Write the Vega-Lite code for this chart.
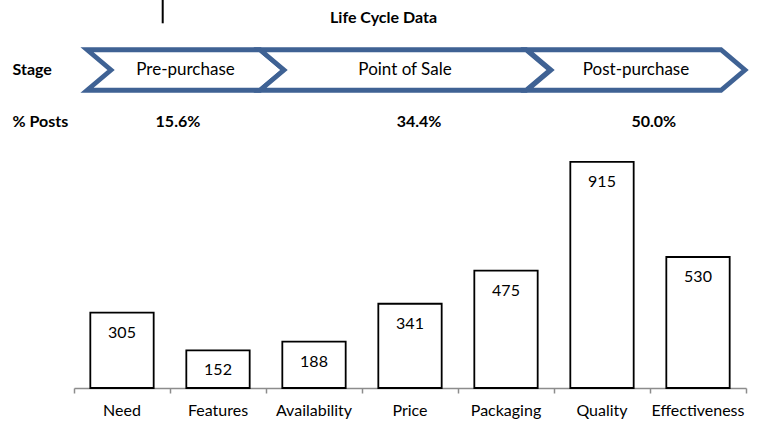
{
  "$schema": "https://vega.github.io/schema/vega-lite/v6.json",
  "width": 672,
  "height": 388,
  "autosize": {"type": "none"},
  "padding": {"left": 74, "top": 0, "right": 12, "bottom": 36},
  "background": "white",
  "config": {"view": {"stroke": null}, "font": "Lato"},
  "datasets": {
    "bars": [
      {"category": "Need", "posts": 305},
      {"category": "Features", "posts": 152},
      {"category": "Availability", "posts": 188},
      {"category": "Price", "posts": 341},
      {"category": "Packaging", "posts": 475},
      {"category": "Quality", "posts": 915},
      {"category": "Effectiveness", "posts": 530}
    ],
    "stages": [
      {"stage": "Pre-purchase", "x": 1.1615, "pct": "15.6%", "pctX": 1.083},
      {"stage": "Point of Sale", "x": 3.448, "pct": "34.4%", "pctX": 3.594},
      {"stage": "Post-purchase", "x": 5.854, "pct": "50.0%", "pctX": 6.04}
    ],
    "rows": [
      {"label": "Stage", "row": 2},
      {"label": "% Posts", "row": 1}
    ],
    "heading": [
      {"title": "Life Cycle Data", "x": 3.224, "row": 3}
    ],
    "marker": [
      {"x": 0.924, "from": 3.346, "to": 2.898}
    ]
  },
  "layer": [
    {
      "data": {"name": "bars"},
      "encoding": {
        "x": {
          "field": "category", "type": "nominal", "sort": null,
          "scale": {"paddingInner": 0.34, "paddingOuter": 0.17},
          "axis": {"orient": "bottom", "title": null, "ticks": false, "tickSize": 0, "domain": false, "labelPadding": 14, "labelFontSize": 16, "labelFont": "Lato", "labelColor": "#000000", "labelAngle": 0}
        },
        "y": {"field": "posts", "type": "quantitative", "scale": {"domain": [0, 1570], "nice": false}, "axis": null}
      },
      "layer": [
        {"mark": {"type": "bar", "fill": "white", "stroke": "black", "strokeWidth": 1.8}},
        {"mark": {"type": "text", "baseline": "middle", "dy": 20, "fontSize": 16, "font": "Lato", "color": "black"},
         "encoding": {"text": {"field": "posts", "type": "quantitative"}}}
      ]
    },
    {
      "layer": [
        {
          "data": {"name": "stages"},
          "mark": {"type": "point", "size": 10000, "fill": "white", "fillOpacity": 1, "opacity": 1, "stroke": "#3F6294", "strokeWidth": 4.8, "strokeJoin": "miter", "strokeMiterLimit": 10},
          "encoding": {
            "x": {"field": "x", "type": "quantitative", "scale": {"domain": [0, 7], "nice": false, "zero": false},
                  "axis": {"orient": "bottom", "values": [0, 1, 2, 3, 4, 5, 6, 7], "labels": false, "title": null, "grid": false, "tickSize": 5, "tickColor": "#8c8c8c", "tickWidth": 1.5, "domainColor": "#8c8c8c", "domainWidth": 1.5}},
            "y": {"datum": 2, "type": "quantitative", "scale": {"domain": [-4.115, 3.346], "nice": false, "zero": false}, "axis": null},
            "shape": {"field": "stage", "type": "nominal",
              "scale": {"domain": ["Pre-purchase", "Point of Sale", "Post-purchase"],
                "range": [
                  "M-1.97,-0.405L1.49,-0.405L1.97,0L1.49,0.405L-1.97,0.405L-1.49,0Z",
                  "M-2.9,-0.405L2.42,-0.405L2.9,0L2.42,0.405L-2.9,0.405L-2.42,0Z",
                  "M-2.18,-0.405L1.7,-0.405L2.18,0L1.7,0.405L-2.18,0.405L-1.7,0Z"
                ]},
              "legend": null}
          }
        },
        {
          "data": {"name": "stages"},
          "mark": {"type": "text", "fontSize": 17, "font": "Lato", "color": "black", "baseline": "middle"},
          "encoding": {
            "x": {"field": "x", "type": "quantitative", "scale": {"domain": [0, 7], "nice": false, "zero": false},
                  "axis": {"orient": "bottom", "values": [0, 1, 2, 3, 4, 5, 6, 7], "labels": false, "title": null, "grid": false, "tickSize": 5, "tickColor": "#8c8c8c", "tickWidth": 1.5, "domainColor": "#8c8c8c", "domainWidth": 1.5}},
            "y": {"datum": 2, "type": "quantitative", "scale": {"domain": [-4.115, 3.346], "nice": false, "zero": false}, "axis": null},
            "text": {"field": "stage"}
          }
        },
        {
          "data": {"name": "stages"},
          "mark": {"type": "text", "fontSize": 16, "font": "Lato", "fontWeight": "bold", "color": "black", "baseline": "middle"},
          "encoding": {
            "x": {"field": "pctX", "type": "quantitative", "scale": {"domain": [0, 7], "nice": false, "zero": false},
                  "axis": {"orient": "bottom", "values": [0, 1, 2, 3, 4, 5, 6, 7], "labels": false, "title": null, "grid": false, "tickSize": 5, "tickColor": "#8c8c8c", "tickWidth": 1.5, "domainColor": "#8c8c8c", "domainWidth": 1.5}},
            "y": {"datum": 1, "type": "quantitative", "scale": {"domain": [-4.115, 3.346], "nice": false, "zero": false}, "axis": null},
            "text": {"field": "pct"}
          }
        },
        {
          "data": {"name": "rows"},
          "mark": {"type": "text", "fontSize": 16, "font": "Lato", "fontWeight": "bold", "color": "black", "baseline": "middle", "align": "left"},
          "encoding": {
            "x": {"datum": -0.64, "type": "quantitative", "scale": {"domain": [0, 7], "nice": false, "zero": false},
                  "axis": {"orient": "bottom", "values": [0, 1, 2, 3, 4, 5, 6, 7], "labels": false, "title": null, "grid": false, "tickSize": 5, "tickColor": "#8c8c8c", "tickWidth": 1.5, "domainColor": "#8c8c8c", "domainWidth": 1.5}},
            "y": {"field": "row", "type": "quantitative", "scale": {"domain": [-4.115, 3.346], "nice": false, "zero": false}, "axis": null},
            "text": {"field": "label"}
          }
        },
        {
          "data": {"name": "heading"},
          "mark": {"type": "text", "fontSize": 16, "font": "Lato", "fontWeight": "bold", "color": "black", "baseline": "middle"},
          "encoding": {
            "x": {"field": "x", "type": "quantitative", "scale": {"domain": [0, 7], "nice": false, "zero": false},
                  "axis": {"orient": "bottom", "values": [0, 1, 2, 3, 4, 5, 6, 7], "labels": false, "title": null, "grid": false, "tickSize": 5, "tickColor": "#8c8c8c", "tickWidth": 1.5, "domainColor": "#8c8c8c", "domainWidth": 1.5}},
            "y": {"field": "row", "type": "quantitative", "scale": {"domain": [-4.115, 3.346], "nice": false, "zero": false}, "axis": null},
            "text": {"field": "title"}
          }
        },
        {
          "data": {"name": "marker"},
          "mark": {"type": "rule", "color": "black", "strokeWidth": 2},
          "encoding": {
            "x": {"field": "x", "type": "quantitative", "scale": {"domain": [0, 7], "nice": false, "zero": false},
                  "axis": {"orient": "bottom", "values": [0, 1, 2, 3, 4, 5, 6, 7], "labels": false, "title": null, "grid": false, "tickSize": 5, "tickColor": "#8c8c8c", "tickWidth": 1.5, "domainColor": "#8c8c8c", "domainWidth": 1.5}},
            "y": {"field": "from", "type": "quantitative", "scale": {"domain": [-4.115, 3.346], "nice": false, "zero": false}, "axis": null},
            "y2": {"field": "to"}
          }
        }
      ]
    }
  ],
  "resolve": {"scale": {"x": "independent", "y": "independent"}, "axis": {"x": "independent", "y": "independent"}}
}
